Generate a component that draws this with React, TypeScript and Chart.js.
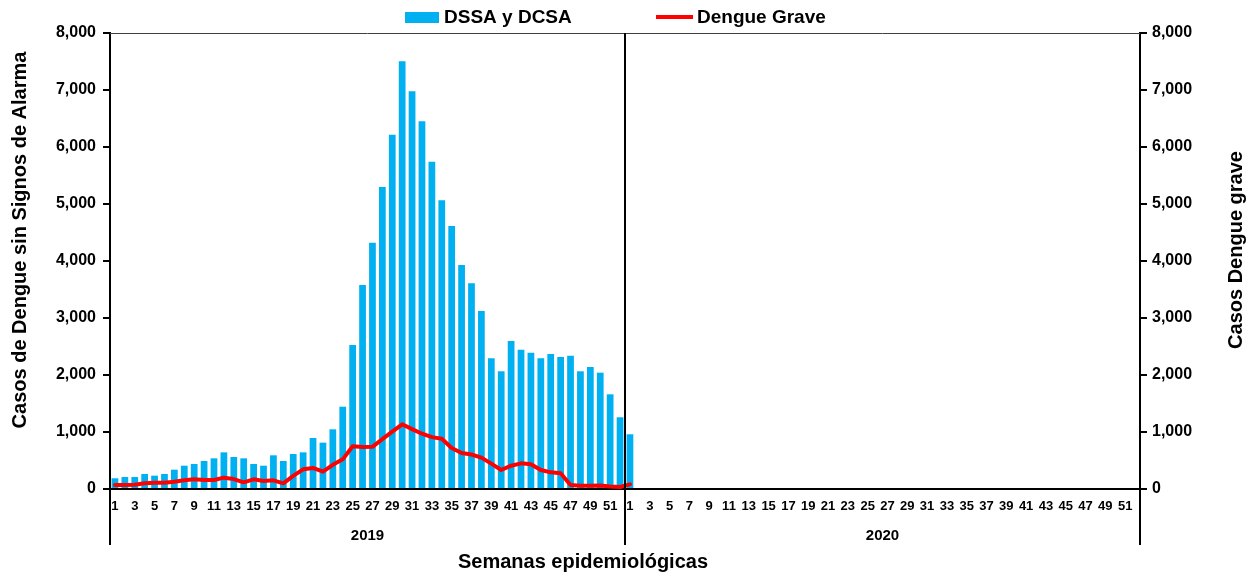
import React, { useEffect, useRef } from 'react';
import { Chart, registerables } from 'chart.js';

Chart.register(...registerables);

// ---- Categories / tick labels ----
const WEEKS_PER_YEAR = 52;
const WEEK_LABELS = Array.from({ length: WEEKS_PER_YEAR }, (_, i) => String(i + 1));
const YEARS = ['2019', '2020'];
const CATEGORY_LABELS = [...WEEK_LABELS, ...WEEK_LABELS];

// ---- Series values ----
const dssa2019 = [
  188, 210, 210, 263, 234, 263, 339, 409, 439, 491,
  538, 643, 561, 538, 439, 409, 591, 491, 614, 643,
  895, 813, 1047, 1444, 2526, 3579, 4321, 5298, 6216, 7503,
  6977, 6450, 5743, 5064, 4614, 3930, 3608, 3123, 2293, 2065,
  2597, 2444, 2392, 2293, 2368, 2316, 2339, 2065, 2140, 2041,
  1661, 1258,
];
const dssa2020 = [960];

const grave2019 = [
  70, 70, 75, 100, 110, 110, 128, 152, 170, 158,
  158, 199, 175, 117, 170, 140, 152, 100, 230, 345,
  370, 305, 425, 520, 750, 735, 740, 875, 1006, 1135,
  1050, 970, 910, 880, 720, 630, 605, 550, 445, 333,
  409, 450, 435, 333, 292, 275, 70, 58, 58, 60,
  45, 35,
];
const grave2020 = [82];

// ---- Text ----
const LEGEND_BAR = 'DSSA y DCSA';
const LEGEND_LINE = 'Dengue Grave';
const Y_LEFT_TITLE = 'Casos de Dengue sin Signos de Alarma';
const Y_RIGHT_TITLE = 'Casos Dengue grave';
const X_TITLE = 'Semanas epidemiológicas';

const FONT = "'Liberation Sans', Arial, sans-serif";

function pad(arr: number[]) {
  return [...arr, ...new Array(WEEKS_PER_YEAR - arr.length).fill(null)];
}

const overlayPlugin = {
  id: 'overlay',
  afterDraw(chart: any) {
    const { ctx, chartArea: a, scales } = chart;
    const x = scales.x;
    const extBottom = scales.x2.bottom;
    ctx.save();
    // top border of plot area
    ctx.strokeStyle = '#404040';
    ctx.lineWidth = 1;
    ctx.beginPath();
    ctx.moveTo(a.left, a.top + 0.5);
    ctx.lineTo(a.right, a.top + 0.5);
    ctx.stroke();
    // separators (year boundaries)
    ctx.strokeStyle = '#000';
    ctx.lineWidth = 2;
    const mid = (x.getPixelForTick(WEEKS_PER_YEAR - 1) + x.getPixelForTick(WEEKS_PER_YEAR)) / 2;
    ctx.beginPath();
    ctx.moveTo(a.left, a.bottom);
    ctx.lineTo(a.left, extBottom);
    ctx.moveTo(mid, a.top);
    ctx.lineTo(mid, extBottom);
    ctx.moveTo(a.right, a.bottom);
    ctx.lineTo(a.right, extBottom);
    ctx.stroke();

    // legend
    const ds = chart.data.datasets;
    ctx.font = `bold 19px ${FONT}`;
    ctx.textBaseline = 'middle';
    ctx.textAlign = 'left';
    ctx.fillStyle = ds[0].backgroundColor;
    ctx.fillRect(405, 12, 34, 11);
    ctx.fillStyle = '#000';
    ctx.fillText(ds[0].label, 444, 17.5);
    ctx.strokeStyle = ds[1].borderColor;
    ctx.lineWidth = 4;
    ctx.beginPath();
    ctx.moveTo(656, 17);
    ctx.lineTo(693, 17);
    ctx.stroke();
    ctx.fillText(ds[1].label, 697, 17.5);

    // axis titles
    ctx.font = `bold 20px ${FONT}`;
    ctx.textAlign = 'center';
    ctx.fillStyle = '#000';
    ctx.save();
    ctx.translate(20, 240);
    ctx.rotate(-Math.PI / 2);
    ctx.fillText(Y_LEFT_TITLE, 0, 0);
    ctx.restore();
    ctx.save();
    ctx.translate(1236, 250);
    ctx.rotate(-Math.PI / 2);
    ctx.fillText(Y_RIGHT_TITLE, 0, 0);
    ctx.restore();
    ctx.fillText(X_TITLE, 583, 562);
    ctx.restore();
  },
};

export default function App() {
  const ref = useRef<HTMLCanvasElement>(null);
  useEffect(() => {
    document.body.style.margin = '0';
    document.body.style.overflow = 'hidden';
    Chart.defaults.font.family = FONT;
    Chart.defaults.color = '#000';
    const yTicks = (v: any) => Number(v).toLocaleString('en-US');
    const chart = new Chart(ref.current as HTMLCanvasElement, {
      type: 'bar',
      data: {
        labels: CATEGORY_LABELS,
        datasets: [
          {
            type: 'bar',
            label: LEGEND_BAR,
            data: [...dssa2019, ...pad(dssa2020)],
            backgroundColor: '#00B0F0',
            borderWidth: 0,
            barPercentage: 0.68,
            categoryPercentage: 1,
            yAxisID: 'y',
            order: 2,
          } as any,
          {
            type: 'line',
            label: LEGEND_LINE,
            data: [...grave2019, ...pad(grave2020)],
            borderColor: '#FF0000',
            backgroundColor: '#FF0000',
            borderWidth: 4,
            pointRadius: 0,
            tension: 0,
            borderJoinStyle: 'round',
            borderCapStyle: 'round',
            spanGaps: false,
            yAxisID: 'y1',
            order: 1,
          } as any,
        ],
      },
      options: {
        responsive: false,
        maintainAspectRatio: false,
        animation: false,
        devicePixelRatio: 1,
        layout: { padding: { top: 33, bottom: 30, left: 0, right: 0 } },
        plugins: { legend: { display: false }, tooltip: { enabled: false } },
        scales: {
          x: {
            type: 'category',
            offset: true,
            grid: { display: false, drawTicks: true, tickLength: 8 },
            border: { display: true, color: '#000', width: 2 },
            ticks: {
              autoSkip: false,
              maxRotation: 0,
              minRotation: 0,
              padding: 2,
              color: '#000',
              font: { size: 13, weight: 'bold' },
              callback: (_v: any, i: number) => (i % 2 === 0 ? CATEGORY_LABELS[i] : ''),
            },
            afterFit: (s: any) => { s.height = 26; },
          },
          x2: {
            type: 'category',
            labels: YEARS,
            position: 'bottom',
            offset: true,
            weight: 1,
            grid: { display: false, drawTicks: true, tickLength: 8 },
            border: { display: false },
            ticks: { padding: 4, color: '#000', font: { size: 15, weight: 'bold' }, maxRotation: 0 },
            afterFit: (s: any) => { s.height = 30; },
          },
          y: {
            position: 'left',
            min: 0,
            max: 8000,
            ticks: { stepSize: 1000, padding: 7, color: '#000', font: { size: 16, weight: 'bold' }, callback: yTicks },
            grid: { display: true, drawOnChartArea: false, drawTicks: true, tickLength: 7, color: '#000', lineWidth: 2 },
            border: { display: true, color: '#000', width: 2 },
            afterFit: (s: any) => { s.width = 110; },
          },
          y1: {
            position: 'right',
            min: 0,
            max: 8000,
            ticks: { stepSize: 1000, padding: 5, color: '#000', font: { size: 16, weight: 'bold' }, callback: yTicks },
            grid: { display: true, drawOnChartArea: false, drawTicks: true, tickLength: 7, color: '#000', lineWidth: 2 },
            border: { display: true, color: '#000', width: 2 },
            afterFit: (s: any) => { s.width = 114; },
          },
        },
      } as any,
      plugins: [overlayPlugin],
    });
    return () => chart.destroy();
  }, []);
  return <canvas ref={ref} width={1254} height={575} style={{ display: 'block' }} />;
}
